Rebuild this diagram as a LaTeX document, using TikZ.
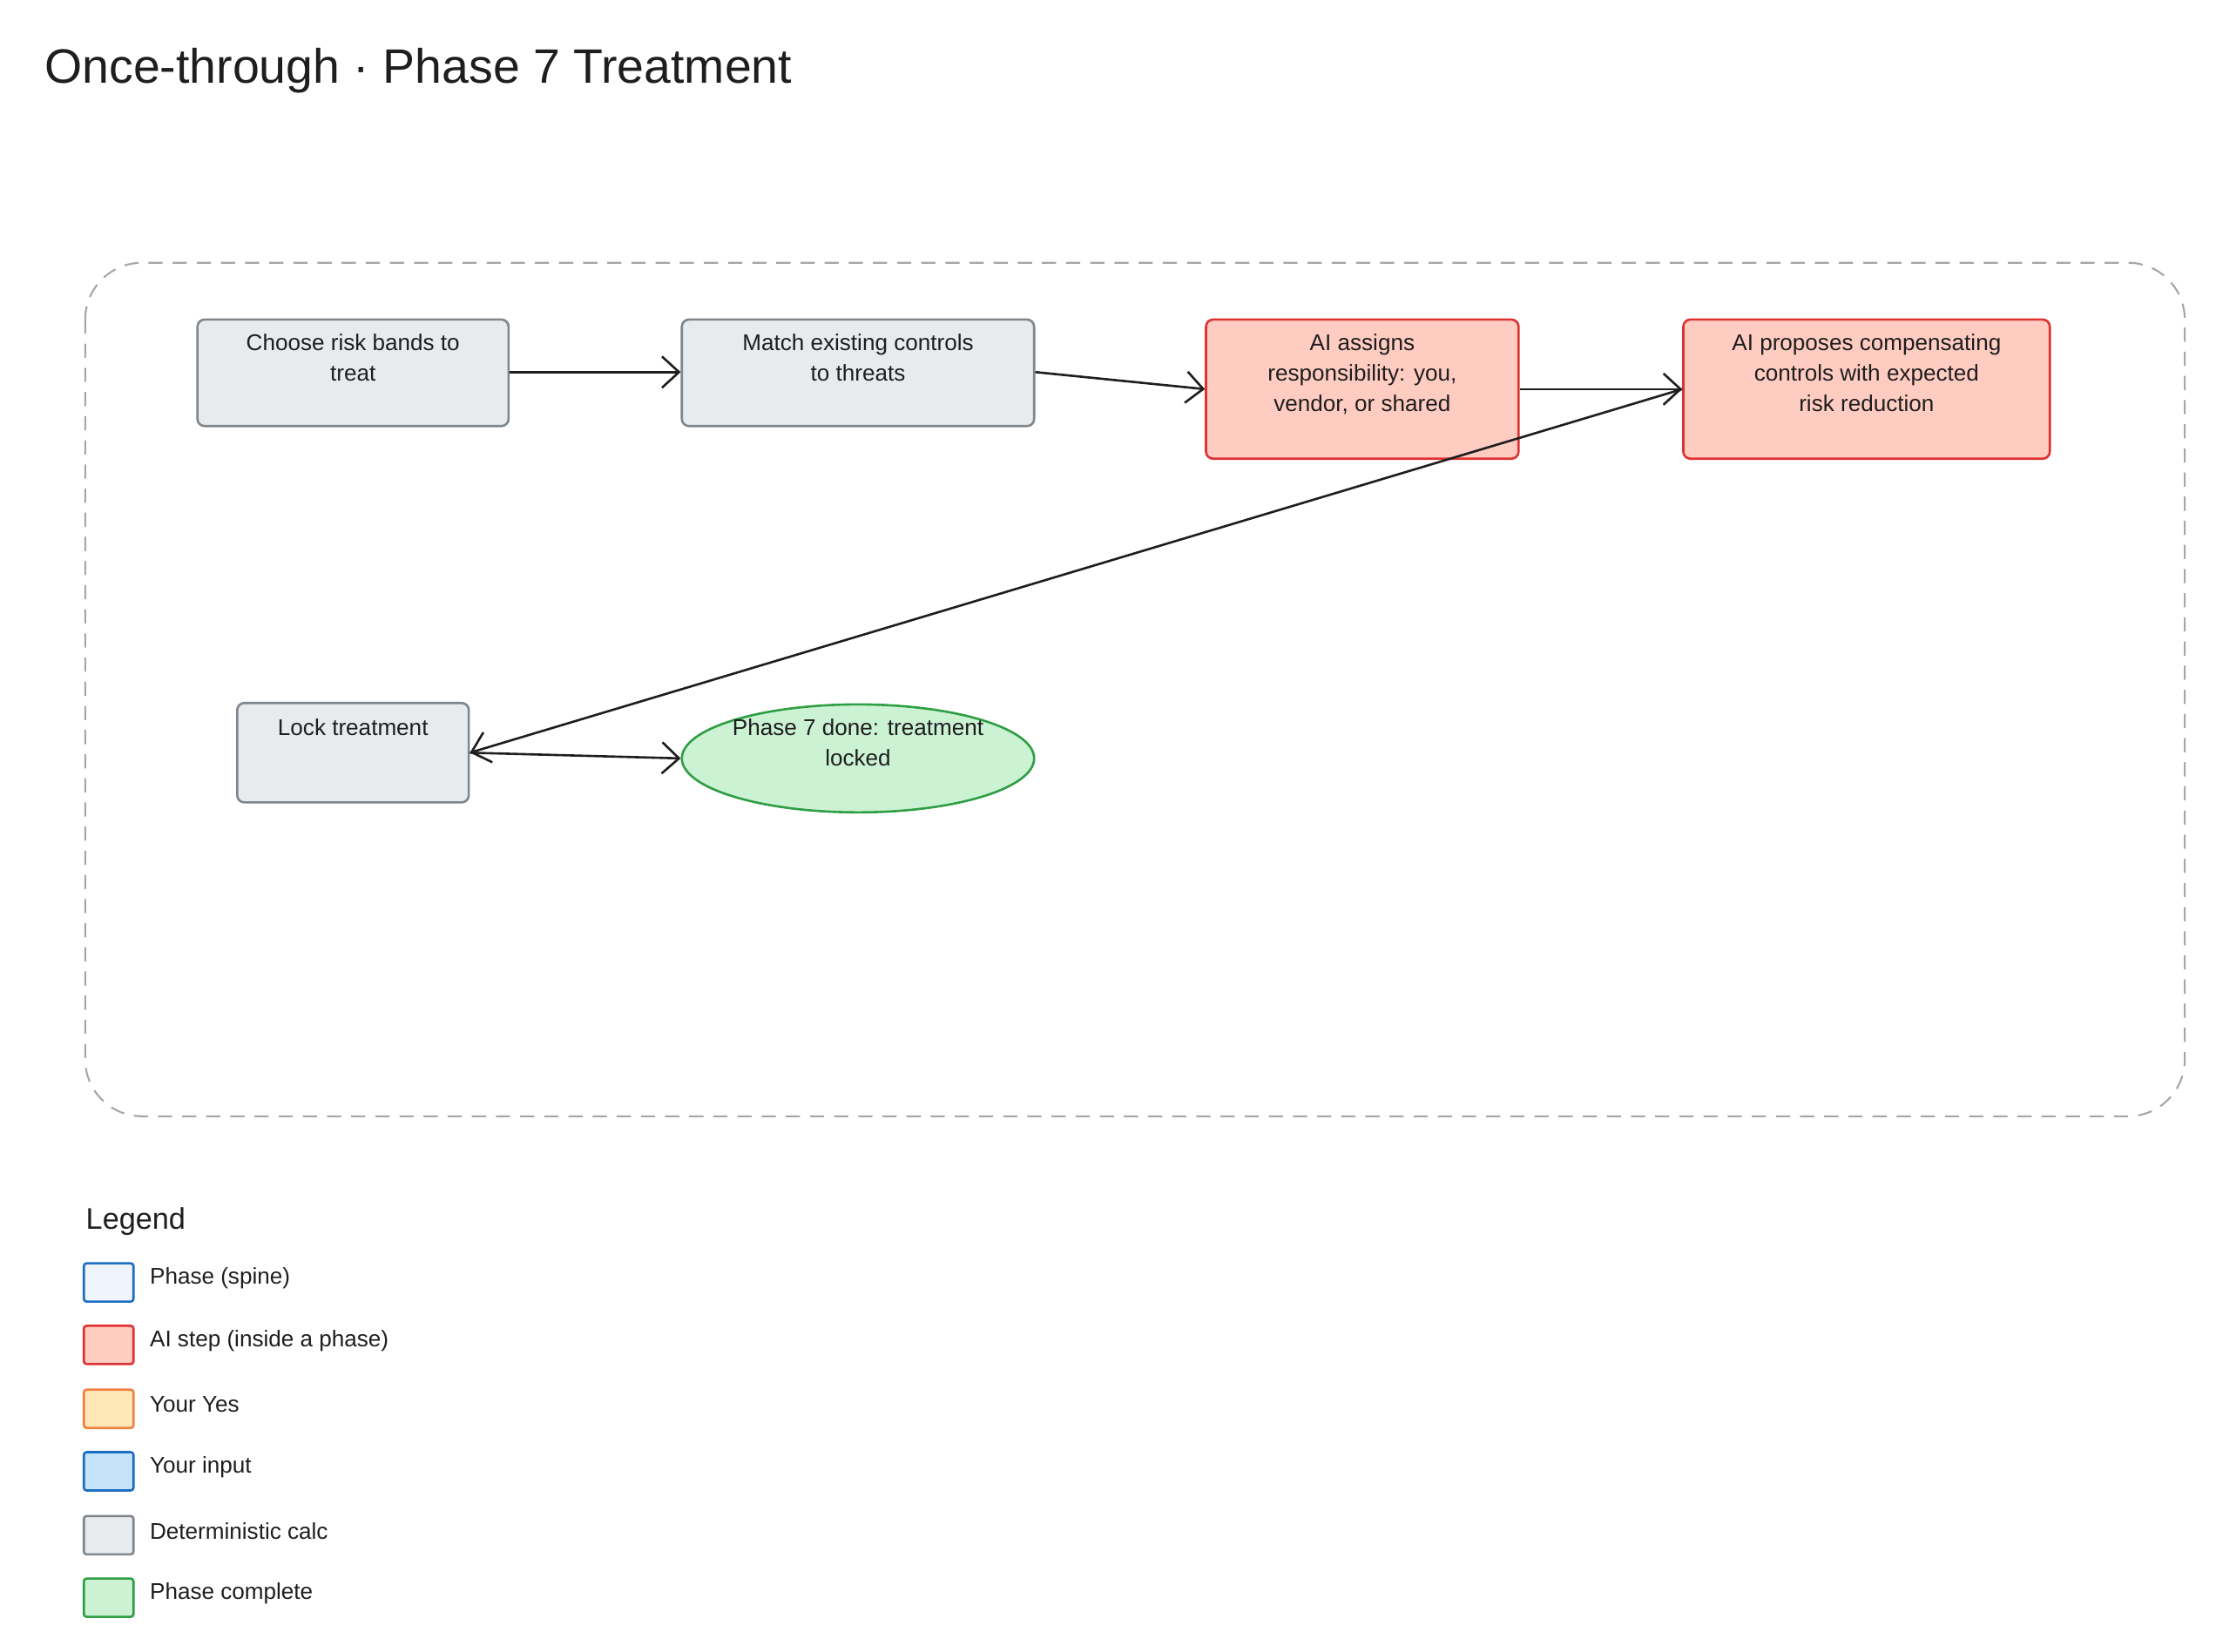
\documentclass[tikz,border=0pt]{standalone}
\usepackage{fontspec}
\setmainfont{Liberation Sans}
\usetikzlibrary{arrows.meta,shapes.geometric}
\definecolor{grayF}{HTML}{E8EBEE}\definecolor{grayD}{HTML}{7F868C}
\definecolor{redF}{HTML}{FFCCC2}\definecolor{redD}{HTML}{E03131}
\definecolor{grnF}{HTML}{CCF2D4}\definecolor{grnD}{HTML}{2F9E44}
\definecolor{bluF}{HTML}{EEF5FC}\definecolor{bluD}{HTML}{1C6EC0}
\definecolor{ylwF}{HTML}{FFE8B8}\definecolor{ylwD}{HTML}{F08040}
\definecolor{inF}{HTML}{C5E3FA}
\definecolor{txt}{HTML}{1E1E1E}
\tikzset{
 box/.style={draw, line width=1.6pt, rounded corners=5pt},
 det/.style={box, fill=grayF, draw=grayD},
 ai/.style={box, fill=redF, draw=redD},
 lbl/.style={anchor=north, align=center, font=\fontsize{16}{21.5}\selectfont, text=txt, inner sep=0pt},
 conn/.style={-{Straight Barb[length=12pt,width=22pt,line width=1.6pt]}, line width=1.6pt, draw=txt},
 leg/.style={draw, line width=1.6pt, rounded corners=2pt, minimum width=35pt, minimum height=27pt, inner sep=0pt},
 legt/.style={anchor=west, font=\fontsize{16}{20}\selectfont, text=txt}
}
\begin{document}
\begin{tikzpicture}[x=1pt,y=-1pt]
\useasboundingbox (0,0) rectangle (1560,1163);
\node[anchor=west, font=\fontsize{34}{40}\selectfont, text=txt] (title) at (28,50) {Once-through · Phase 7 Treatment};
\draw[dashed, dash pattern=on 10pt off 7pt, draw=black!35, line width=1.3pt, rounded corners=40pt] (60,185) rectangle (1538,786);

\node[det, minimum width=219pt, minimum height=75pt] (choose) at (248.5,262.5) {};
\node[lbl] at (248.5,235) {Choose risk bands to\\treat};
\node[det, minimum width=248pt, minimum height=75pt] (match) at (604,262.5) {};
\node[lbl] at (604,235) {Match existing controls\\to threats};
\node[ai, minimum width=220pt, minimum height=98pt] (assign) at (959,274) {};
\node[lbl] at (959,235) {AI assigns\\responsibility: you,\\vendor, or shared};
\node[ai, minimum width=258pt, minimum height=98pt] (propose) at (1314,274) {};
\node[lbl] at (1314,235) {AI proposes compensating\\controls with expected\\risk reduction};
\node[det, minimum width=163pt, minimum height=70pt] (lock) at (248.5,530) {};
\node[lbl] at (248.5,506) {Lock treatment};
\node[ellipse, draw=grnD, fill=grnF, line width=1.6pt, minimum width=248pt, minimum height=76pt] (done) at (604,534) {};
\node[lbl] at (604,506) {Phase 7 done: treatment\\locked};

\draw[conn] (choose.east |- 0,262) -- (match.west |- 0,262);
\draw[conn] (match.east |- 0,262) -- (assign.west |- 0,274);
\draw[conn] (assign.east) -- (propose.west);
\draw[conn] (propose.west) -- (lock.east);
\draw[conn] (lock.east) -- (done.west);

\node[anchor=west, font=\fontsize{21}{24}\selectfont, text=txt] (legend) at (57,860) {Legend};
\foreach \y/\f/\d/\t [count=\i] in {903/bluF/bluD/Phase (spine), 947/redF/redD/AI step (inside a phase), 992/ylwF/ylwD/Your Yes/No, 1036/inF/bluD/Your input/review, 1081/grayF/grayD/Deterministic calc, 1125/grnF/grnD/Phase complete}{
 \node[leg, fill=\f, draw=\d] (lb\i) at (76.5,\y) {};
 \node[legt] (lt\i) at (102,\y-3) {\t};
}
\end{tikzpicture}
\end{document}
